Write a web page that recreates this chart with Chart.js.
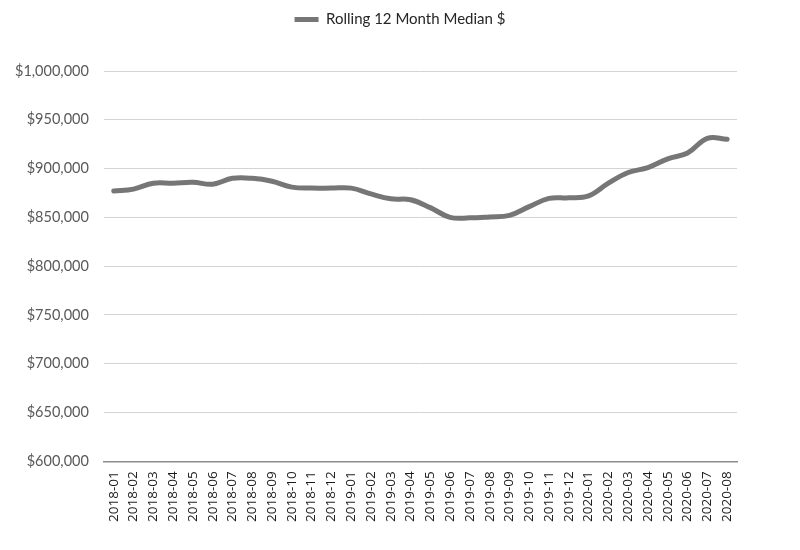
<!DOCTYPE html>
<html>
<head>
<meta charset="utf-8">
<script src="https://cdn.jsdelivr.net/npm/chart.js@4"></script>
<style>
  html, body { margin: 0; padding: 0; background: #fff; }
  #wrap { width: 800px; height: 550px; position: relative; }
</style>
</head>
<body>
<div id="wrap"><canvas id="medianChart"></canvas></div>
<script>
const months = ['2018-01','2018-02','2018-03','2018-04','2018-05','2018-06','2018-07','2018-08','2018-09','2018-10','2018-11','2018-12',
  '2019-01','2019-02','2019-03','2019-04','2019-05','2019-06','2019-07','2019-08','2019-09','2019-10','2019-11','2019-12',
  '2020-01','2020-02','2020-03','2020-04','2020-05','2020-06','2020-07','2020-08'];
const medianValues = [877000, 879000, 885000, 885000, 886000, 884000, 890000, 890000, 887000, 881000, 880000, 880000,
  880000, 874000, 869000, 868000, 860000, 850000, 849500, 850500, 852000, 861000, 869500, 870000,
  872000, 885000, 896000, 901000, 910000, 916000, 931000, 930000];
const seriesName = 'Rolling 12 Month Median $';
const yMin = 600000, yMax = 1000000, yStep = 50000;

function fmtMoney(v) {
    return '$' + Math.round(v).toLocaleString('en-US');
}

// push the plot down below the legend like the original
const legendGap = {
    id: 'legendGap',
    beforeInit(chart) {
        const origFit = chart.legend.fit;
        chart.legend.fit = function() {
            origFit.bind(chart.legend)();
            this.height += 34;
        };
    }
};

const ctx = document.getElementById('medianChart').getContext('2d');
const chart = new Chart(ctx, {
    type: 'line',
    data: {
        labels: months,
        datasets: [{
            label: seriesName,
            data: medianValues,
            borderColor: '#767676',
            backgroundColor: '#767676',
            borderWidth: 5,
            tension: 0.4,
            pointRadius: 0,
            borderCapStyle: 'round',
            fill: false
        }]
    },
    options: {
        responsive: true,
        maintainAspectRatio: false,
        animation: false,
        layout: { padding: { left: 0, right: 0, top: 2, bottom: 18 } },
        plugins: {
            legend: {
                position: 'top',
                labels: {
                    usePointStyle: true,
                    pointStyle: 'line',
                    pointStyleWidth: 24,
                    color: '#262626',
                    font: { family: 'Lato', size: 15 },
                    padding: 10
                }
            },
            tooltip: { enabled: false }
        },
        scales: {
            x: {
                offset: true,
                grid: { display: false, drawTicks: false },
                border: { display: true, color: '#8c8c8c', width: 1.5 },
                ticks: {
                    autoSkip: false,
                    maxRotation: 90,
                    minRotation: 90,
                    padding: 10,
                    color: '#1a1a1a',
                    font: { family: 'Open Sans', size: 13.5 }
                }
            },
            y: {
                min: yMin,
                max: yMax,
                grid: { color: '#d4d4d4', lineWidth: 1, drawTicks: false },
                border: { display: false },
                ticks: {
                    stepSize: yStep,
                    padding: 15,
                    color: '#595959',
                    font: { family: 'Lato', size: 14.5 },
                    callback: v => fmtMoney(v)
                }
            },
            // empty right-hand space, keeps the legend centred on the page
            yRight: {
                position: 'right',
                min: yMin,
                max: yMax,
                grid: { display: false, drawTicks: false },
                border: { display: false },
                ticks: { display: false },
                afterFit(scale) { scale.width = 63; }
            }
        }
    },
    plugins: [legendGap]
});
</script>
</body>
</html>
